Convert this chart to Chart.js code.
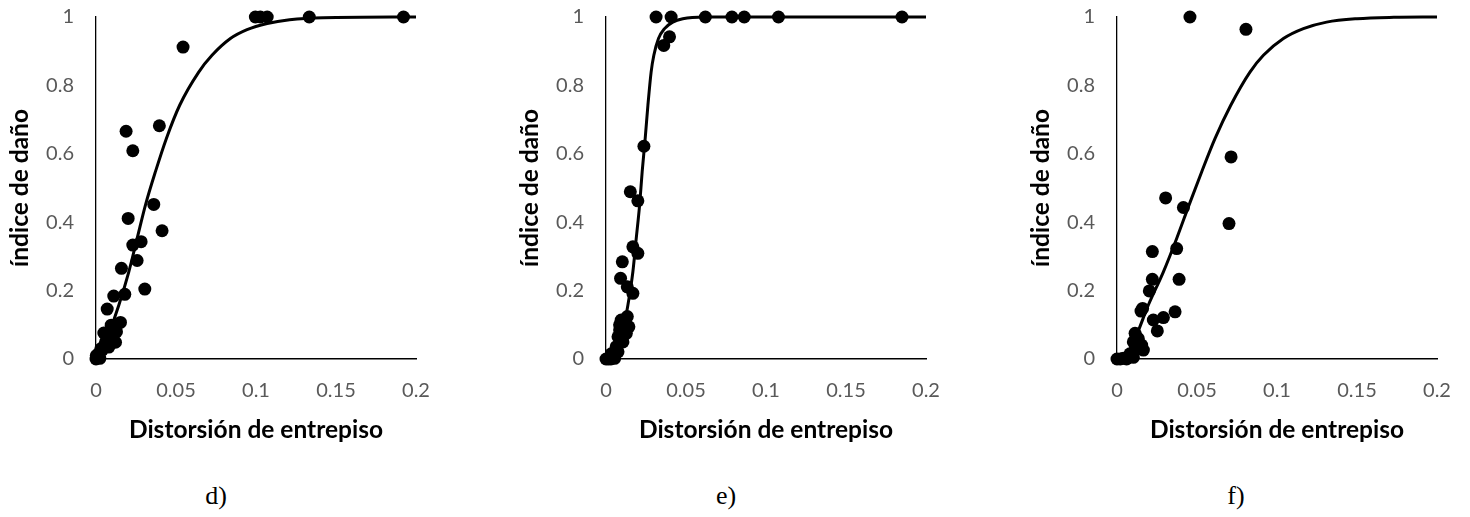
<!DOCTYPE html>
<html>
<head>
<meta charset="utf-8">
<script src="https://cdn.jsdelivr.net/npm/chart.js@4.4.1/dist/chart.umd.min.js"></script>
<style>
  html, body { margin: 0; padding: 0; background: #fff; width: 1470px; height: 517px; overflow: hidden; }
  .panel { position: absolute; top: 0; }
  .cap { position: absolute; top: 481px; font-family: "Liberation Serif", "Times New Roman", serif; font-size: 26px; color: #000; transform: translateX(-50%); }
</style>
</head>
<body>
<canvas id="cd" class="panel" width="445" height="470" style="left:0px"></canvas>
<canvas id="ce" class="panel" width="445" height="470" style="left:510px"></canvas>
<canvas id="cf" class="panel" width="445" height="470" style="left:1021px"></canvas>
<div class="cap" style="left:216px">d)</div>
<div class="cap" style="left:726px">e)</div>
<div class="cap" style="left:1236px">f)</div>
<script>
// ---- tick labels / titles ----
const xTickLabels = ['0', '0.05', '0.1', '0.15', '0.2'];
const yTickLabels = ['0', '0.2', '0.4', '0.6', '0.8', '1'];
const xTitle = 'Distorsión de entrepiso';
const yTitle = 'índice de daño';

// ---- panel d) ----
const dX = [0.0996, 0.1027, 0.107, 0.1333, 0.1922, 0.0544, 0.0188, 0.023, 0.0396, 0.0361, 0.0413, 0.0201, 0.023, 0.0282, 0.0257, 0.0305, 0.0159, 0.018, 0.0111, 0.007, 0.0153, 0.0095, 0.0049, 0.0128, 0.0122, 0.008, 0.0054, 0.0039, 0.0017, 0.0008, 0, 0.0024, 0.0002, 0.009, 0.011, 0.006, 0.003, 0.008];
const dY = [1, 1, 1, 1, 1, 0.912, 0.666, 0.609, 0.682, 0.452, 0.375, 0.411, 0.333, 0.343, 0.288, 0.2045, 0.265, 0.189, 0.184, 0.146, 0.107, 0.099, 0.076, 0.08, 0.049, 0.061, 0.04, 0.026, 0.015, 0.005, 0, 0.002, 0.01, 0.085, 0.07, 0.05, 0.03, 0.035];
const dCurveX = [0, 0.0028, 0.007, 0.0143, 0.0205, 0.0257, 0.0309, 0.0371, 0.044, 0.0523, 0.0642, 0.0725, 0.084, 0.0944, 0.107, 0.121, 0.142, 0.2];
const dCurveY = [0, 0.0117, 0.0604, 0.158, 0.255, 0.3525, 0.45, 0.547, 0.645, 0.742, 0.839, 0.888, 0.937, 0.963, 0.981, 0.992, 0.998, 1];

// ---- panel e) ----
const eX = [0.0313, 0.0407, 0.0621, 0.0787, 0.0864, 0.1078, 0.185, 0.0397, 0.0361, 0.0237, 0.0152, 0.0199, 0.0168, 0.0199, 0.0102, 0.0091, 0.0133, 0.0168, 0.0133, 0.0095, 0.0143, 0.0085, 0.0127, 0.0075, 0.0106, 0.0064, 0.0075, 0.0044, 0.0054, 0, 0.0031, 0.0033, 0.0085, 0.0116, 0.009, 0.012, 0.006, 0.0015];
const eY = [1, 1, 1, 1, 1, 1, 1, 0.942, 0.917, 0.622, 0.489, 0.4626, 0.328, 0.309, 0.284, 0.236, 0.211, 0.192, 0.124, 0.114, 0.094, 0.085, 0.075, 0.065, 0.05, 0.036, 0.021, 0.012, 0.002, 0, 0, 0.015, 0.1, 0.11, 0.055, 0.09, 0.025, 0];
const eCurveX = [0, 0.004, 0.0065, 0.0095, 0.0137, 0.0168, 0.0189, 0.021, 0.0226, 0.0245, 0.0262, 0.0282, 0.0299, 0.0328, 0.0366, 0.0417, 0.048, 0.0615, 0.2];
const eCurveY = [0, 0.003, 0.02, 0.0604, 0.158, 0.255, 0.3525, 0.45, 0.547, 0.645, 0.742, 0.839, 0.888, 0.937, 0.966, 0.985, 0.995, 1, 1];

// ---- panel f) ----
const fX = [0.0456, 0.0806, 0.0713, 0.07, 0.0304, 0.0415, 0.0373, 0.0221, 0.0388, 0.0221, 0.0202, 0.016, 0.0363, 0.029, 0.0227, 0.0252, 0.0113, 0.0133, 0.0154, 0.0165, 0.0102, 0.0123, 0.0081, 0.0102, 0.004, 0, 0.002, 0.006, 0.015, 0.012];
const fY = [1, 0.964, 0.591, 0.396, 0.471, 0.443, 0.323, 0.314, 0.233, 0.233, 0.199, 0.148, 0.138, 0.121, 0.114, 0.082, 0.075, 0.06, 0.041, 0.026, 0.05, 0.03, 0.015, 0.005, 0.002, 0, 0, 0, 0.14, 0.065];
const fCurveX = [0, 0.004, 0.0113, 0.0196, 0.029, 0.0373, 0.045, 0.0529, 0.0613, 0.0711, 0.0831, 0.0915, 0.104, 0.1165, 0.131, 0.15, 0.173, 0.2];
const fCurveY = [0, 0.003, 0.0604, 0.158, 0.255, 0.3525, 0.45, 0.547, 0.645, 0.742, 0.839, 0.888, 0.937, 0.966, 0.985, 0.995, 0.999, 1];

const FONT = 'Lato, "Open Sans", sans-serif';

function pts(xs, ys) { return xs.map((x, i) => ({ x: x, y: ys[i] })); }

function makeChart(id, px, py, cx, cy) {
  new Chart(document.getElementById(id), {
    type: 'scatter',
    data: {
      datasets: [
        {
          type: 'line',
          data: pts(cx, cy),
          borderColor: '#000',
          borderWidth: 3,
          pointRadius: 0,
          fill: false,
          cubicInterpolationMode: 'monotone',
          clip: false,
          order: 2
        },
        {
          data: pts(px, py),
          backgroundColor: '#000',
          borderColor: '#000',
          borderWidth: 0,
          pointRadius: 6.5,
          pointHoverRadius: 6.5,
          clip: false,
          order: 1
        }
      ]
    },
    options: {
      responsive: false,
      animation: false,
      events: [],
      layout: { autoPadding: false, padding: { top: 17, right: 29, bottom: 0, left: 0 } },
      plugins: { legend: { display: false }, tooltip: { enabled: false } },
      scales: {
        x: {
          type: 'linear',
          min: 0, max: 0.2,
          afterBuildTicks: (s) => { s.ticks = xTickLabels.map(v => ({ value: parseFloat(v) })); },
          afterFit: (s) => { s.height = 111; s.paddingLeft = 0; s.paddingRight = 0; s.paddingTop = 0; s.paddingBottom = 0; },
          grid: { display: false, drawTicks: false, tickLength: 0 },
          border: { display: true, color: '#000', width: 1.6 },
          ticks: {
            padding: 20,
            color: '#595959',
            font: { family: FONT, size: 20 },
            maxRotation: 0,
            callback: (v, i) => xTickLabels[i]
          },
          title: {
            display: true,
            text: xTitle,
            color: '#000',
            font: { family: FONT, size: 24.5, weight: 'bold' },
            padding: { top: 0, bottom: 25 }
          }
        },
        y: {
          type: 'linear',
          min: 0, max: 1,
          afterBuildTicks: (s) => { s.ticks = yTickLabels.map(v => ({ value: parseFloat(v) })); },
          afterFit: (s) => { s.width = 96; s.paddingLeft = 0; s.paddingRight = 0; s.paddingTop = 0; s.paddingBottom = 0; },
          grid: { display: false, drawTicks: false, tickLength: 0 },
          border: { display: true, color: '#000', width: 1.3 },
          ticks: {
            padding: 22,
            color: '#595959',
            font: { family: FONT, size: 20 },
            callback: (v, i) => yTickLabels[i]
          },
          title: {
            display: true,
            text: yTitle,
            color: '#000',
            font: { family: FONT, size: 24.5, weight: 'bold' },
            padding: { top: 5, bottom: 0 }
          }
        }
      }
    }
  });
}

makeChart('cd', dX, dY, dCurveX, dCurveY);
makeChart('ce', eX, eY, eCurveX, eCurveY);
makeChart('cf', fX, fY, fCurveX, fCurveY);
</script>
</body>
</html>
